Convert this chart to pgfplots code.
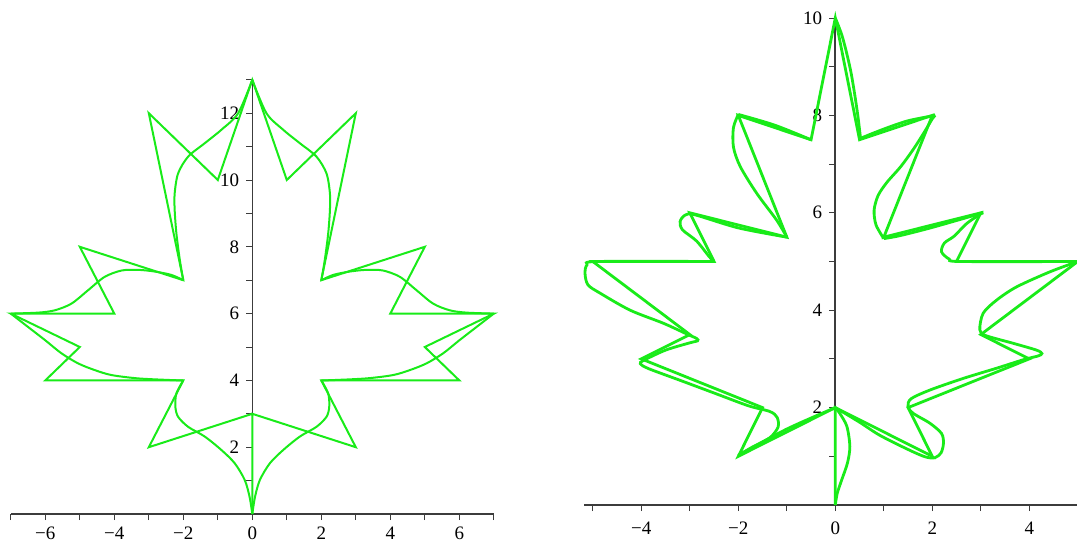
\documentclass[border=0pt]{standalone}
\usepackage{fontspec}
\setmainfont{Liberation Serif}
\usepackage{pgfplots}
\pgfplotsset{compat=1.18}
\definecolor{leafgreen}{RGB}{25,235,25}
\definecolor{axgray}{RGB}{60,60,60}
\pgfplotsset{
  mapleaxis/.style={
    enlargelimits=false,
    axis lines=middle,
    axis line style={-, axgray},
    tick align=outside,
    major tick length=3pt, minor tick length=3pt,
    tick style={axgray, line width=0.5pt},
    ticklabel style={font=\fontsize{9.5}{11}\selectfont, text=black},
    hide obscured x ticks=false, hide obscured y ticks=false,
    clip=false,
  }
}
\begin{document}
\begin{tikzpicture}
\useasboundingbox (0,0) rectangle (538.5pt,271.5pt);
% ---------------- left leaf ----------------
\begin{axis}[mapleaxis,
  at={(126.15pt,14.5pt)}, anchor=origin,
  x=17.25pt, y=16.7pt,
  xmin=-7, xmax=7, ymin=0, ymax=13,
  axis line style={line width=0.6pt},
  xtick={-6,-4,-2,0,2,4,6},
  xticklabels={−6,−4,−2,0,2,4,6},
  ytick={2,4,6,8,10,12},
  yticklabels={2,4,6,8,10,12},
  minor xtick={-7,-5,-3,-1,1,3,5,7},
  minor ytick={1,3,5,7,9,11,13},
]
\addplot[leafgreen, line width=1pt, line join=miter] coordinates {
(0,0) (0,3) (3,2) (2,4) (6,4) (5,5) (7,6) (4,6) (5,8) (2,7) (3,12) (1,10) (0,13)
(-1,10) (-3,12) (-2,7) (-5,8) (-4,6) (-7,6) (-5,5) (-6,4) (-2,4) (-3,2) (0,3)};
% right half of the curve
\addplot[leafgreen, line width=1pt, smooth] coordinates {
(0,13) (0.41,12.0) (0.9,11.5) (1.38,11.1) (1.86,10.7) (2.15,10.2) (2.25,9.6) (2.25,9.1) (2.2,8.4) (2.1,7.6) (2.0,7.0)};
\addplot[leafgreen, line width=1pt, smooth] coordinates {
(2.0,7.0) (2.35,7.16) (2.83,7.26) (3.31,7.31) (3.79,7.29) (4.28,7.1) (4.76,6.7) (5.24,6.3) (5.72,6.1) (6.2,6.03) (7.0,6.0)};
\addplot[leafgreen, line width=1pt, smooth] coordinates {
(7,6) (6.5,5.6) (6.0,5.2) (5.53,4.81) (5.05,4.51) (4.57,4.31) (4.08,4.16) (3.31,4.06) (2.35,4.01) (2.0,4.0)};
\addplot[leafgreen, line width=1pt, smooth] coordinates {
(2.0,4.0) (2.2,3.61) (2.23,3.21) (2.15,2.91) (1.86,2.61) (1.38,2.32) (0.9,1.92) (0.51,1.52) (0.22,1.02) (0.08,0.52) (0,0)};
% left half of the curve
\addplot[leafgreen, line width=1pt, smooth] coordinates {
(0,13) (-0.41,12.0) (-0.9,11.5) (-1.38,11.1) (-1.86,10.7) (-2.15,10.2) (-2.25,9.6) (-2.25,9.1) (-2.2,8.4) (-2.1,7.6) (-2.0,7.0)};
\addplot[leafgreen, line width=1pt, smooth] coordinates {
(-2.0,7.0) (-2.35,7.16) (-2.83,7.26) (-3.31,7.31) (-3.79,7.29) (-4.28,7.1) (-4.76,6.7) (-5.24,6.3) (-5.72,6.1) (-6.2,6.03) (-7.0,6.0)};
\addplot[leafgreen, line width=1pt, smooth] coordinates {
(-7,6) (-6.5,5.6) (-6.0,5.2) (-5.53,4.81) (-5.05,4.51) (-4.57,4.31) (-4.08,4.16) (-3.31,4.06) (-2.35,4.01) (-2.0,4.0)};
\addplot[leafgreen, line width=1pt, smooth] coordinates {
(-2.0,4.0) (-2.2,3.61) (-2.23,3.21) (-2.15,2.91) (-1.86,2.61) (-1.38,2.32) (-0.9,1.92) (-0.51,1.52) (-0.22,1.02) (-0.08,0.52) (0,0)};
\end{axis}
% ---------------- right leaf ----------------
\begin{axis}[mapleaxis,
  at={(417.65pt,19pt)}, anchor=origin,
  x=24.25pt, y=24.35pt,
  xmin=-5.18, xmax=5.0, ymin=0, ymax=10,
  axis line style={line width=0.9pt},
  xtick={-4,-2,0,2,4},
  xticklabels={−4,−2,0,2,4},
  ytick={2,4,6,8,10},
  yticklabels={2,4,6,8,10},
  minor xtick={-5,-3,-1,1,3,5},
  minor ytick={1,3,5,7,9},
  xticklabel style={yshift=-2pt},
]
\addplot[leafgreen, line width=1.4pt, line join=miter] coordinates {
(0,0) (0,2) (2,1) (1.5,2) (4,3) (3,3.5) (5,5) (2.5,5) (3,6) (1,5.5) (2,8) (0.5,7.5) (0,10)
(-0.5,7.5) (-2,8) (-1,5.5) (-3,6) (-2.5,5) (-5,5) (-3,3.5) (-4,3) (-1.5,2) (-2,1) (0,2)};
\addplot[leafgreen, line width=1.4pt, smooth] coordinates {
(0,0) (0.04,0.24) (0.13,0.51) (0.25,0.86) (0.30,1.2) (0.24,1.61) (0.1,1.87) (0,2)};
\addplot[leafgreen, line width=1.4pt, smooth] coordinates {
(0,2) (0.5,1.7) (0.92,1.43) (1.5,1.14) (1.85,0.99) (2.05,0.97) (2.18,1.07) (2.23,1.27) (2.19,1.47) (1.95,1.68) (1.61,1.88) (1.5,2.02) (1.56,2.18) (1.95,2.36) (2.64,2.6) (3.33,2.81) (3.9,2.99) (4.18,3.06) (4.26,3.11) (4.15,3.18) (3.67,3.32) (3.1,3.48) (2.98,3.6) (3.05,3.94) (3.33,4.21) (3.74,4.48) (4.43,4.79) (5,5)};
\addplot[leafgreen, line width=1.4pt, smooth] coordinates {
(5,5) (2.6,5) (2.35,5.05) (2.19,5.2) (2.25,5.38) (2.45,5.52) (2.71,5.78) (3.0,5.98) (3.05,6.0)};
\addplot[leafgreen, line width=1.4pt, smooth] coordinates {
(3.05,6.0) (2.0,5.7) (1.33,5.53) (1.0,5.47)};
\addplot[leafgreen, line width=1.4pt, smooth] coordinates {
(1.0,5.47) (0.84,5.75) (0.8,6.05) (0.88,6.35) (1.06,6.62) (1.35,6.95) (1.62,7.32) (1.85,7.68) (2.0,7.93) (2.06,8.0)};
\addplot[leafgreen, line width=1.4pt, smooth] coordinates {
(2.06,8.0) (1.5,7.89) (1.0,7.72) (0.52,7.53)};
\addplot[leafgreen, line width=1.4pt, smooth] coordinates {
(0.52,7.53) (0.45,8.1) (0.32,8.9) (0.15,9.6) (0,10)};
\addplot[leafgreen, line width=1.4pt, smooth] coordinates {
(-0.5,7.5) (-1.25,7.8) (-2.0,8.02)};
\addplot[leafgreen, line width=1.4pt, smooth] coordinates {
(-2.0,8.02) (-2.1,7.75) (-2.1,7.35) (-1.96,6.95) (-1.62,6.4) (-1.21,5.85) (-1.0,5.5)};
\addplot[leafgreen, line width=1.4pt, smooth] coordinates {
(-1,5.5) (-2,5.69) (-2.9,5.96) (-3.1,5.95) (-3.2,5.82) (-3.15,5.65) (-2.86,5.42) (-2.6,5.1) (-2.5,5.0)};
\addplot[leafgreen, line width=1.4pt, smooth] coordinates {
(-2.5,5) (-4.9,5) (-5.12,4.93) (-5.16,4.75) (-5.1,4.52) (-4.85,4.35) (-4.23,4.0) (-3.54,3.73) (-3.06,3.51) (-2.86,3.42) (-2.84,3.37) (-3.0,3.33) (-3.5,3.18) (-3.95,2.97) (-4.02,2.9) (-3.85,2.8) (-3.2,2.56) (-2.5,2.3) (-1.8,2.04) (-1.35,1.92) (-1.2,1.8) (-1.18,1.6) (-1.35,1.38) (-1.69,1.2) (-2.0,1.02)};
\addplot[leafgreen, line width=1.4pt, smooth] coordinates {
(-2.0,1.02) (-1.0,1.56) (0,2)};
\end{axis}
\end{tikzpicture}
\end{document}
